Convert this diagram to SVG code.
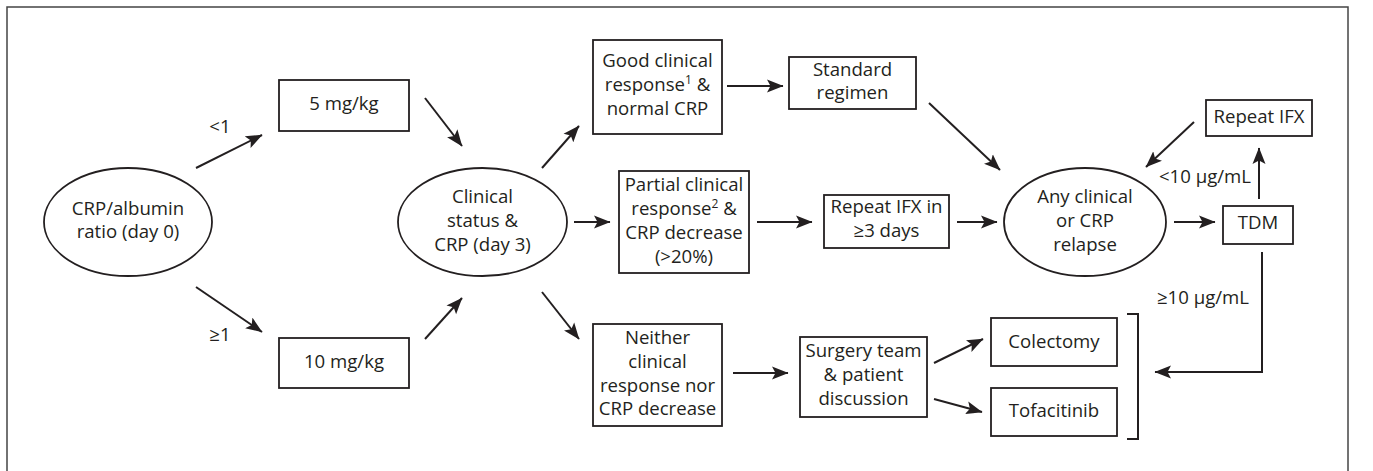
<svg xmlns="http://www.w3.org/2000/svg" width="1373" height="471" viewBox="0 0 1373 471">
<style>
text{font-family:"Open Sans","Noto Sans","Liberation Sans",sans-serif;font-size:18.6px;fill:#231f20;text-anchor:middle}
.b{fill:#fff;stroke:#231f20;stroke-width:1.8}
.c{fill:none;stroke:#231f20;stroke-width:2}
.a{marker-end:url(#ah)}
.frame{fill:none;stroke:#444;stroke-width:1.5}
.sup{font-size:12px}
</style>
<defs>
<marker id="ah" markerUnits="userSpaceOnUse" markerWidth="18" markerHeight="14" viewBox="0 0 18 14" refX="16" refY="7" orient="auto">
<path d="M0,0.5 L16.5,7 L0,13.5 L3.5,7 z" fill="#231f20"/>
</marker>
</defs>
<rect class="frame" x="7" y="7" width="1341" height="490"/>

<g id="n-ratio"><ellipse class="b" cx="128" cy="222" rx="84" ry="54"/><text x="128" y="215">CRP/albumin</text><text x="128" y="238">ratio (day 0)</text></g>
<g id="n-5mg"><rect class="b" x="279" y="80" width="130" height="51"/><text x="344" y="110">5 mg/kg</text></g>
<g id="n-10mg"><rect class="b" x="279" y="338" width="130" height="50"/><text x="344" y="368">10 mg/kg</text></g>
<g id="n-day3"><ellipse class="b" cx="482.5" cy="222" rx="84.5" ry="54"/><text x="482.5" y="203">Clinical</text><text x="482.5" y="227">status &amp;</text><text x="482.5" y="251">CRP (day 3)</text></g>
<g id="n-good"><rect class="b" x="593" y="40" width="129" height="94"/><text x="657.5" y="67">Good clinical</text><text x="657.5" y="91">response<tspan class="sup" dy="-7">1</tspan><tspan dy="7"> &amp;</tspan></text><text x="657.5" y="115">normal CRP</text></g>
<g id="n-partial"><rect class="b" x="619" y="171" width="130" height="102"/><text x="684" y="191">Partial clinical</text><text x="684" y="215">response<tspan class="sup" dy="-7">2</tspan><tspan dy="7"> &amp;</tspan></text><text x="684" y="239">CRP decrease</text><text x="684" y="263">(&gt;20%)</text></g>
<g id="n-neither"><rect class="b" x="593" y="324" width="129" height="102"/><text x="657.5" y="344">Neither</text><text x="657.5" y="368">clinical</text><text x="657.5" y="392">response nor</text><text x="657.5" y="415">CRP decrease</text></g>
<g id="n-standard"><rect class="b" x="789" y="57" width="127" height="52"/><text x="852.5" y="76">Standard</text><text x="852.5" y="99">regimen</text></g>
<g id="n-repeat3"><rect class="b" x="824" y="195" width="125" height="53"/><text x="886.5" y="213">Repeat IFX in</text><text x="886.5" y="237">≥3 days</text></g>
<g id="n-surgery"><rect class="b" x="800" y="337" width="127" height="80"/><text x="863.5" y="357">Surgery team</text><text x="863.5" y="381">&amp; patient</text><text x="863.5" y="405">discussion</text></g>
<g id="n-relapse"><ellipse class="b" cx="1085" cy="222" rx="81" ry="54"/><text x="1085" y="203">Any clinical</text><text x="1085" y="227">or CRP</text><text x="1085" y="251">relapse</text></g>
<g id="n-tdm"><rect class="b" x="1223" y="206" width="70" height="38"/><text x="1258" y="229">TDM</text></g>
<g id="n-repeatifx"><rect class="b" x="1206" y="100" width="106" height="36"/><text x="1259" y="123">Repeat IFX</text></g>
<g id="n-colectomy"><rect class="b" x="991" y="318" width="126" height="48"/><text x="1054" y="348">Colectomy</text></g>
<g id="n-tofa"><rect class="b" x="991" y="388" width="126" height="48"/><text x="1054" y="417">Tofacitinib</text></g>
<g id="bracket"><path class="c" d="M1127,314 H1138 V439 H1127"/></g>

<g id="connectors">
<line class="c a" x1="196" y1="168" x2="262" y2="135"/>
<line class="c a" x1="196" y1="287" x2="262" y2="332"/>
<line class="c a" x1="425" y1="98" x2="462" y2="146"/>
<line class="c a" x1="425" y1="339" x2="462" y2="298"/>
<line class="c a" x1="542" y1="168" x2="579" y2="126"/>
<line class="c a" x1="574" y1="222" x2="610" y2="222"/>
<line class="c a" x1="542" y1="292" x2="579" y2="339"/>
<line class="c a" x1="727" y1="86" x2="783" y2="86"/>
<line class="c a" x1="757" y1="222" x2="812" y2="222"/>
<line class="c a" x1="733" y1="373" x2="788" y2="373"/>
<line class="c a" x1="929" y1="103" x2="1000" y2="170"/>
<line class="c a" x1="957" y1="222" x2="997" y2="222"/>
<line class="c a" x1="1174" y1="222" x2="1215" y2="222"/>
<line class="c a" x1="1259" y1="199" x2="1259" y2="148"/>
<line class="c a" x1="1194" y1="122" x2="1146" y2="167"/>
<polyline class="c a" points="1262,252 1262,372 1155,372"/>
<line class="c a" x1="934" y1="363" x2="983" y2="339"/>
<line class="c a" x1="934" y1="399" x2="982" y2="412"/>
<text x="220" y="133">&lt;1</text>
<text x="220" y="341">≥1</text>
<text x="1205" y="183">&lt;10 µg/mL</text>
<text x="1203" y="304">≥10 µg/mL</text>
</g>
</svg>
